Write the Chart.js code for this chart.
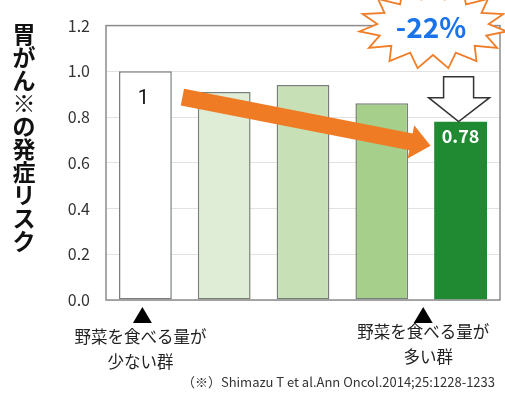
<!DOCTYPE html>
<html>
<head>
<meta charset="utf-8">
<script src="https://cdn.jsdelivr.net/npm/chart.js@4.4.1/dist/chart.umd.min.js"></script>
<style>
  html, body { margin: 0; padding: 0; background: #fff; }
  #wrap { width: 505px; height: 395px; }
</style>
</head>
<body>
<div id="wrap"><canvas id="myChart" width="505" height="395"></canvas></div>
<script>
// data
const groups = ['Q1', 'Q2', 'Q3', 'Q4', 'Q5'];
const risk = [1.0, 0.91, 0.94, 0.86, 0.78];
const riskLabels = ['1', '', '', '', '0.78'];
const barColors = ['#ffffff', '#e0edd6', '#c8e0b5', '#a5cf8a', '#1f8a32'];
const barBorders = [1.5, 1.5, 1.5, 1.5, 0];
const yTicks = [0, 0.2, 0.4, 0.6, 0.8, 1.0, 1.2];
const yTitle = '胃がん※の発症リスク';
const lowLabel = ['野菜を食べる量が', '少ない群'];
const highLabel = ['野菜を食べる量が', '多い群'];
const badgeText = '-22%';
const citation = '（※）Shimazu T et al.Ann Oncol.2014;25:1228-1233';

const JP = '"Noto Sans CJK JP", "Noto Sans", sans-serif';

const decor = {
    id: 'decor',
    afterDatasetsDraw(chart) {
        const ctx = chart.ctx;
        const ca = chart.chartArea;
        const bars = chart.getDatasetMeta(0).data;
        const ys = chart.scales.y;
        const xs = chart.scales.x;

        // frame
        ctx.save();
        ctx.strokeStyle = '#8c8c8c';
        ctx.lineWidth = 1.5;
        ctx.strokeRect(ca.left, ca.top, ca.right - ca.left, ca.bottom - ca.top);
        ctx.restore();

        // value labels
        ctx.save();
        ctx.textAlign = 'center';
        ctx.textBaseline = 'middle';
        ctx.fillStyle = '#111';
        ctx.font = '20px Roboto, sans-serif';
        ctx.fillText(riskLabels[0], bars[0].x - 2, bars[0].y + 28);
        ctx.fillStyle = '#ffffff';
        ctx.font = 'bold 18px ' + JP;
        ctx.fillText(riskLabels[4], bars[4].x, bars[4].y + 15);
        ctx.restore();

        // orange arrow
        const x0 = bars[0].x + 37, y0 = ys.getPixelForValue(0.887);
        const x1 = bars[4].x - 30, y1 = ys.getPixelForValue(0.675);
        const ang = Math.atan2(y1 - y0, x1 - x0);
        const headLen = 20, headW = 17, shaftW = 8.5;
        const len = Math.hypot(x1 - x0, y1 - y0);
        ctx.save();
        ctx.translate(x0, y0);
        ctx.rotate(ang);
        ctx.fillStyle = '#ef7b25';
        ctx.beginPath();
        ctx.moveTo(0, -shaftW);
        ctx.lineTo(len - headLen, -shaftW);
        ctx.lineTo(len - headLen, -headW);
        ctx.lineTo(len, 0);
        ctx.lineTo(len - headLen, headW);
        ctx.lineTo(len - headLen, shaftW);
        ctx.lineTo(0, shaftW);
        ctx.closePath();
        ctx.fill();
        ctx.restore();

        // hollow down arrow onto last bar
        const tx = bars[4].x - 2, ty = bars[4].y;
        ctx.save();
        ctx.fillStyle = '#ffffff';
        ctx.strokeStyle = '#333';
        ctx.lineWidth = 1.5;
        ctx.beginPath();
        ctx.moveTo(tx - 15, ty - 45);
        ctx.lineTo(tx + 15, ty - 45);
        ctx.lineTo(tx + 15, ty - 24);
        ctx.lineTo(tx + 31, ty - 24);
        ctx.lineTo(tx, ty);
        ctx.lineTo(tx - 30, ty - 24);
        ctx.lineTo(tx - 15, ty - 24);
        ctx.closePath();
        ctx.fill();
        ctx.stroke();
        ctx.restore();

        // starburst badge
        const cx = 433, cy = 27, n = 15;
        ctx.save();
        ctx.fillStyle = '#ffffff';
        ctx.strokeStyle = '#f07d28';
        ctx.lineWidth = 1.8;
        ctx.beginPath();
        for (let i = 0; i < n * 2; i++) {
            const a = -Math.PI / 2 + i * Math.PI / n;
            const outer = i % 2 === 0;
            const rx = outer ? 74 : 56;
            const ry = outer ? 42 : 28;
            const px = cx + rx * Math.cos(a), py = cy + ry * Math.sin(a);
            if (i === 0) ctx.moveTo(px, py); else ctx.lineTo(px, py);
        }
        ctx.closePath();
        ctx.fill();
        ctx.stroke();
        ctx.fillStyle = '#1a73e8';
        ctx.font = 'bold 28px ' + JP;
        ctx.textAlign = 'center';
        ctx.textBaseline = 'middle';
        ctx.fillText(badgeText, cx - 2, cy);
        ctx.restore();

        // y title, stacked characters
        ctx.save();
        ctx.fillStyle = '#111';
        ctx.font = 'bold 23px ' + JP;
        ctx.textAlign = 'center';
        ctx.textBaseline = 'middle';
        Array.from(yTitle).forEach((ch, i) => {
            ctx.fillText(ch, 24, 34 + i * 23);
        });
        ctx.restore();

        // group markers under axis
        const lowX = xs.getPixelForValue(0) - 3;
        const highX = (xs.getPixelForValue(3) + xs.getPixelForValue(4)) / 2 + 2;
        ctx.save();
        ctx.fillStyle = '#000';
        [lowX, highX].forEach(x => {
            ctx.beginPath();
            ctx.moveTo(x, ca.bottom + 7);
            ctx.lineTo(x + 9.5, ca.bottom + 23);
            ctx.lineTo(x - 9.5, ca.bottom + 23);
            ctx.closePath();
            ctx.fill();
        });
        ctx.font = '16.5px ' + JP;
        ctx.textAlign = 'center';
        ctx.textBaseline = 'middle';
        ctx.fillStyle = '#222';
        ctx.fillText(lowLabel[0], lowX - 2, 337);
        ctx.fillText(lowLabel[1], lowX - 2, 362);
        ctx.fillText(highLabel[0], highX, 332);
        ctx.fillText(highLabel[1], highX + 5, 357);
        ctx.font = '13px ' + JP;
        ctx.textAlign = 'right';
        ctx.fillStyle = '#333';
        ctx.fillText(citation, 495, 382);
        ctx.restore();
    }
};

const ctx = document.getElementById('myChart').getContext('2d');
const myChart = new Chart(ctx, {
    type: 'bar',
    data: {
        labels: groups,
        datasets: [{
            data: risk,
            backgroundColor: barColors,
            borderColor: '#777f77',
            borderWidth: barBorders,
            borderSkipped: false,
            categoryPercentage: 1.0,
            barPercentage: 0.67
        }]
    },
    options: {
        responsive: false,
        animation: false,
        layout: { padding: { top: 23, right: 5, left: 0, bottom: 0 } },
        plugins: {
            legend: { display: false },
            tooltip: { enabled: false }
        },
        scales: {
            x: {
                grid: { display: false },
                border: { display: false },
                ticks: { display: false },
                afterFit(scale) { scale.height = 95; }
            },
            y: {
                min: 0,
                max: 1.2,
                afterBuildTicks(scale) { scale.ticks = yTicks.map(v => ({ value: v })); },
                afterFit(scale) { scale.width = 106; },
                grid: { color: '#e2e2e2', lineWidth: 1, drawTicks: false },
                border: { display: false },
                ticks: {
                    padding: 16,
                    color: '#333',
                    font: { size: 16, family: JP },
                    callback: v => Number(v).toFixed(1)
                }
            }
        }
    },
    plugins: [decor]
});
</script>
</body>
</html>
